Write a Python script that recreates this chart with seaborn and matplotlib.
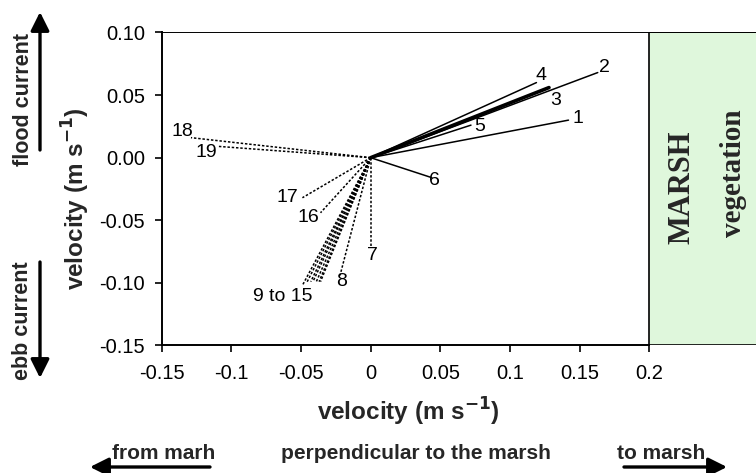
import numpy as np
import pandas as pd
import seaborn as sns
import matplotlib
matplotlib.use("Agg")
import matplotlib.pyplot as plt

# ---- data (velocity vectors, m s-1) ----
vec_labels = ["1", "2", "3", "4", "5", "6", "7", "8",
              "9", "10", "11", "12", "13", "14", "15",
              "16", "17", "18", "19"]
u_end = [0.142, 0.163, 0.128, 0.119, 0.072, 0.044, 0.000, -0.022,
         -0.049, -0.046, -0.043, -0.041, -0.039, -0.037, -0.036,
         -0.036, -0.049, -0.129, -0.109]
v_end = [0.030, 0.068, 0.056, 0.060, 0.026, -0.016, -0.071, -0.094,
         -0.102, -0.100, -0.099, -0.098, -0.099, -0.099, -0.099,
         -0.044, -0.032, 0.016, 0.009]
kind = ["flood"] * 6 + ["ebb"] * 13
weight = ["n", "n", "thick"] + ["n"] * 16

# text labels of the vectors
txt = ["1", "2", "3", "4", "5", "6", "7", "8", "9 to 15", "16", "17", "18", "19"]
txt_x = [0.149, 0.168, 0.133, 0.122, 0.078, 0.046, 0.001, -0.021, -0.063, -0.045, -0.060, -0.135, -0.118]
txt_y = [0.031, 0.072, 0.046, 0.066, 0.025, -0.018, -0.078, -0.099, -0.111, -0.048, -0.032, 0.021, 0.004]

xticks = [-0.15, -0.1, -0.05, 0, 0.05, 0.1, 0.15, 0.2]
xtick_labels = ["-0.15", "-0.1", "-0.05", "0", "0.05", "0.1", "0.15", "0.2"]
yticks = [-0.15, -0.10, -0.05, 0.00, 0.05, 0.10]
ytick_labels = ["-0.15", "-0.10", "-0.05", "0.00", "0.05", "0.10"]
marsh_start = 0.2

rows = []
for i, lab in enumerate(vec_labels):
    rows.append(dict(vec=lab, step=0, u=0.0, v=0.0, kind=kind[i], weight=weight[i]))
    rows.append(dict(vec=lab, step=1, u=u_end[i], v=v_end[i], kind=kind[i], weight=weight[i]))
df = pd.DataFrame(rows)

sns.set_theme(style="white")
plt.rcParams["font.family"] = ["Liberation Sans", "DejaVu Sans"]

fig = plt.figure(figsize=(7.56, 4.73), dpi=100)
ax = fig.add_axes([0.2139, 0.2696, 1.0 - 0.2139, 0.9313 - 0.2696])

xmax = 0.2 + (756 - 649.3) / 1393.0
ax.set_xlim(-0.15, xmax)
ax.set_ylim(-0.15, 0.10)

# marsh box
ax.axvspan(marsh_start, xmax + 0.05, facecolor="#dff7dc", edgecolor="black", lw=1.2, zorder=0)

sns.lineplot(data=df, x="u", y="v", units="vec", estimator=None, sort=False,
             style="kind", dashes={"flood": "", "ebb": (1.6, 1.2)},
             size="weight", sizes={"n": 1.1, "thick": 2.6},
             color="black", legend=False, ax=ax)

for t, x, y in zip(txt, txt_x, txt_y):
    ax.text(x, y, t, fontsize=14, ha="center", va="center", color="black")

ax.text(0.2235, -0.024, "MARSH", rotation=90, ha="center", va="center",
        fontsize=22, fontweight="bold", family="Liberation Serif")
ax.text(0.2608, -0.012, "vegetation", rotation=90, ha="center", va="center",
        fontsize=21, fontweight="bold", family="Liberation Serif")

ax.set_xticks(xticks)
ax.set_xticklabels(xtick_labels)
ax.set_yticks(yticks)
ax.set_yticklabels(ytick_labels)
ax.tick_params(axis="both", direction="out", length=5, width=1.2, color="black",
               labelsize=14.5, labelcolor="black", bottom=True, left=True)
ax.tick_params(axis="x", pad=8)
ax.tick_params(axis="y", pad=7)

for s in ["top", "right"]:
    ax.spines[s].set_visible(False)
for s in ["left", "bottom"]:
    ax.spines[s].set_color("black")
    ax.spines[s].set_linewidth(1.4)
ax.spines["bottom"].set_bounds(-0.15, 0.2)
ax.axhline(0.10, xmin=0, xmax=1, color="black", lw=1.4, zorder=3)

ax.set_xlabel("")
ax.set_ylabel("")
ax.grid(False)

# axis labels
fig.text(408 / 756, 1 - 412 / 473, r"velocity (m s$^{\mathbf{-1}}$)", ha="center", va="center",
         fontsize=17.5, fontweight="bold")
fig.text(76 / 756, 1 - 199 / 473, r"velocity (m s$^{\mathbf{-1}}$)", ha="center", va="center",
         fontsize=17.5, fontweight="bold", rotation=90)

# left direction texts & arrows
fig.text(24 / 756, 1 - 100 / 473, "flood current", rotation=90, ha="center", va="center",
         fontsize=15.5, fontweight="bold")
fig.text(23 / 756, 1 - 321 / 473, "ebb current", rotation=90, ha="center", va="center",
         fontsize=15.5, fontweight="bold")
arrow_kw = dict(arrowstyle="-|>,head_length=0.8,head_width=0.4", color="black", lw=2.4,
                shrinkA=0, shrinkB=0)
fig.add_artist(matplotlib.patches.FancyArrowPatch((40 / 756, 1 - 150 / 473), (40 / 756, 1 - 12 / 473),
                                                  transform=fig.transFigure, mutation_scale=14, **arrow_kw))
fig.add_artist(matplotlib.patches.FancyArrowPatch((40 / 756, 1 - 262 / 473), (40 / 756, 1 - 378 / 473),
                                                  transform=fig.transFigure, mutation_scale=14, **arrow_kw))

# bottom direction texts & arrows
fig.text(164 / 756, 1 - 453 / 473, "from marh", ha="center", va="center", fontsize=15, fontweight="bold")
fig.text(416 / 756, 1 - 453 / 473, "perpendicular to the marsh", ha="center", va="center",
         fontsize=15, fontweight="bold")
fig.text(661 / 756, 1 - 453 / 473, "to marsh", ha="center", va="center", fontsize=15, fontweight="bold")
fig.add_artist(matplotlib.patches.FancyArrowPatch((210 / 756, 1 - 467 / 473), (90 / 756, 1 - 467 / 473),
                                                  transform=fig.transFigure, mutation_scale=14, **arrow_kw))
fig.add_artist(matplotlib.patches.FancyArrowPatch((624 / 756, 1 - 467 / 473), (727 / 756, 1 - 467 / 473),
                                                  transform=fig.transFigure, mutation_scale=14, **arrow_kw))

fig.savefig("out.png", dpi=100)
